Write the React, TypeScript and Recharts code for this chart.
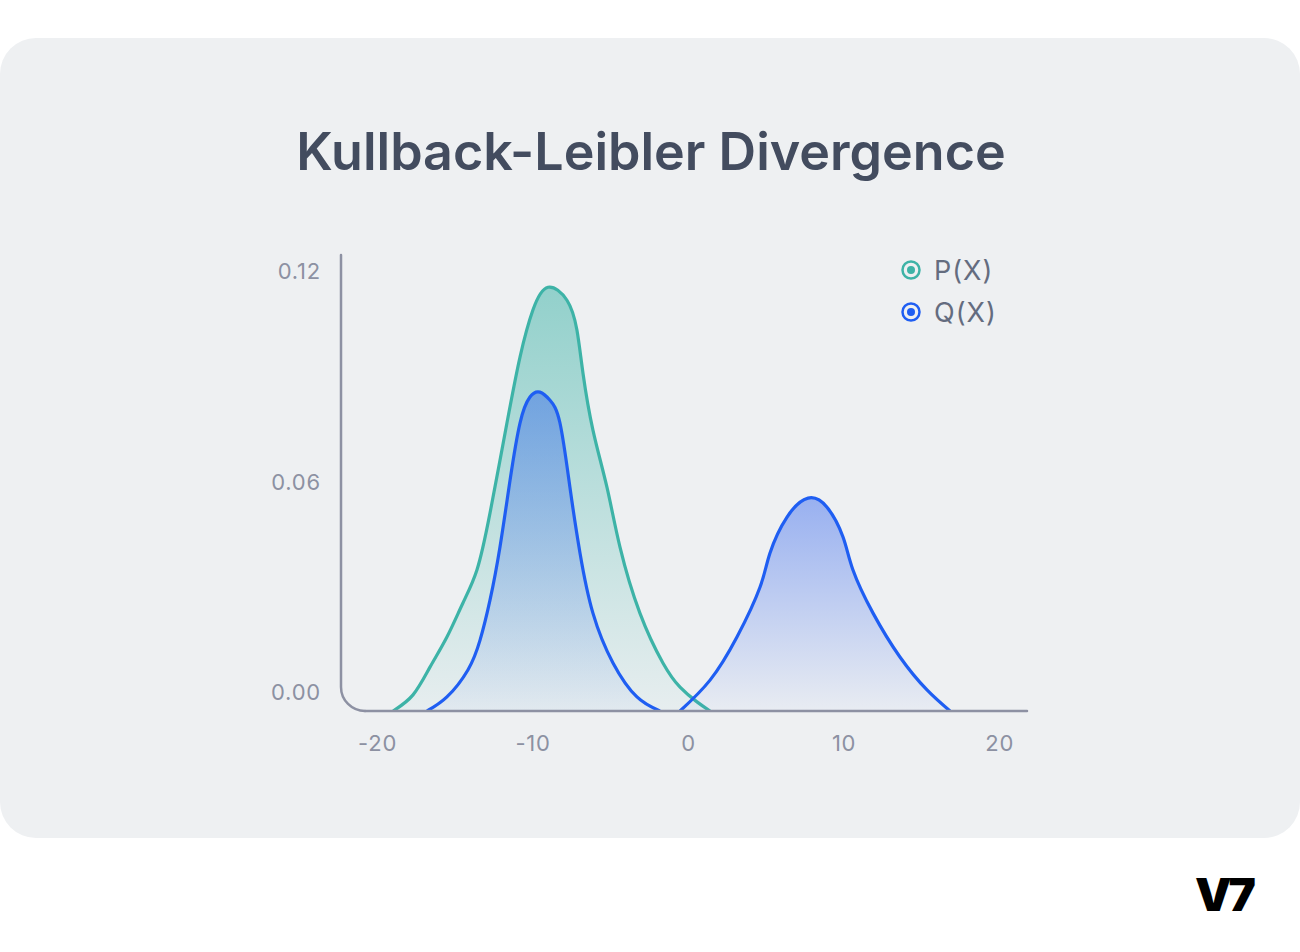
import React from "react";
import { AreaChart, Area, XAxis, YAxis, ReferenceLine } from "recharts";

// P(X) curve samples
const pX = [-19.0, -17.72, -16.63, -15.54, -14.51, -13.61, -12.77, -11.68, -10.84, -10.01, -9.04, -7.82, -7.18, -6.79, -6.15, -5.25, -4.41, -3.13, -1.65, -0.55, 0.54, 1.38];
const pY = [0, 0.0046, 0.0125, 0.0211, 0.0308, 0.0402, 0.0564, 0.0821, 0.1009, 0.1143, 0.1208, 0.1171, 0.1086, 0.0963, 0.0801, 0.0638, 0.0467, 0.0279, 0.0137, 0.0068, 0.0026, 0];

// Q(X) curve samples: left bump
const qLeftX = [-16.82, -15.54, -14.19, -13.41, -12.77, -12.13, -11.48, -10.84, -10.2, -9.56, -8.91, -8.27, -7.63, -6.98, -6.15, -4.86, -3.32, -1.84];
const qLeftY = [0, 0.004, 0.0117, 0.0202, 0.0316, 0.0467, 0.0658, 0.0821, 0.0895, 0.0909, 0.0886, 0.0821, 0.0638, 0.045, 0.0279, 0.0137, 0.004, 0];

// Q(X) curve samples: right bump
const qRightX = [-0.55, 1.38, 3.11, 4.59, 5.23, 6.33, 7.68, 8.9, 9.93, 10.57, 11.86, 13.59, 15.33, 16.81];
const qRightY = [0, 0.0088, 0.0211, 0.0353, 0.045, 0.0553, 0.0607, 0.0581, 0.0496, 0.0402, 0.0279, 0.0154, 0.006, 0];

const xTicks = [-20, -10, 0, 10, 20];
const yTicks = [0, 0.06, 0.12];
const X_MIN = -22.35;
const X_MAX = 21.76;
const Y_MAX = 0.13;

const legendItems = [
  { name: "P(X)", color: "#3db3a7" },
  { name: "Q(X)", color: "#1f5ef2" },
];

const pData = pX.map((x, i) => ({ x, p: pY[i] }));
const qLeftData = qLeftX.map((x, i) => ({ x, q: qLeftY[i] }));
const qRightData = qRightX.map((x, i) => ({ x, q: qRightY[i] }));

const TICK_COLOR = "#8c91a2";
const AXIS_COLOR = "#8d91a3";
const FONT = "Inter, 'Noto Sans', sans-serif";
const R = 24;
const CURVE = "natural";

const YTick = (props: any) => (
  <text
    x={props.x}
    y={props.y - 19}
    textAnchor="end"
    dominantBaseline="central"
    fill={TICK_COLOR}
    fontSize={22}
    letterSpacing={0.8}
    fontFamily={FONT}
  >
    {Number(props.payload.value).toFixed(2)}
  </text>
);

const XTick = (props: any) => (
  <text
    x={props.x}
    y={props.y}
    textAnchor="middle"
    dominantBaseline="central"
    fill={TICK_COLOR}
    fontSize={22}
    letterSpacing={0.8}
    fontFamily={FONT}
  >
    {props.payload.value}
  </text>
);

const VerticalAxisShape = (p: any) => {
  const top = Math.min(p.y1, p.y2);
  const bottom = Math.max(p.y1, p.y2);
  const x = p.x1;
  return (
    <path
      d={`M${x},${top} L${x},${bottom - R} A${R},${R} 0 0 0 ${x + R},${bottom}`}
      fill="none"
      stroke={AXIS_COLOR}
      strokeWidth={2.5}
      strokeLinecap="round"
    />
  );
};

const HorizontalAxisShape = (p: any) => {
  const left = Math.min(p.x1, p.x2);
  const right = Math.max(p.x1, p.x2);
  const y = p.y1;
  return (
    <path
      d={`M${left + R},${y} L${right},${y}`}
      fill="none"
      stroke={AXIS_COLOR}
      strokeWidth={2.5}
      strokeLinecap="round"
    />
  );
};

const LegendBlock = () => (
  <div style={{ position: "absolute", left: 900, top: 249, fontFamily: FONT }}>
    {legendItems.map((it) => (
      <div key={it.name} style={{ display: "flex", alignItems: "center", height: 42 }}>
        <svg width={22} height={22} style={{ marginRight: 12 }}>
          <circle cx={11} cy={11} r={8.5} fill="none" stroke={it.color} strokeWidth={2.5} />
          <circle cx={11} cy={11} r={4} fill={it.color} />
        </svg>
        <span style={{ fontSize: 27, color: "#646c7f", lineHeight: "27px", letterSpacing: 1 }}>{it.name}</span>
      </div>
    ))}
  </div>
);

export default function App() {
  return (
    <div style={{ position: "absolute", left: 0, top: 0, width: 1300, height: 952, background: "#ffffff", overflow: "hidden" }}>
      <div
        style={{
          position: "absolute",
          left: 0,
          top: 38,
          width: 1300,
          height: 800,
          borderRadius: 36,
          background: "#eef0f2",
        }}
      />
      <div
        style={{
          position: "absolute",
          left: 0,
          top: 126,
          width: 1302,
          textAlign: "center",
          fontFamily: FONT,
          fontWeight: 600,
          fontSize: 52,
          lineHeight: "52px",
          color: "#434c5f",
        }}
      >
        Kullback-Leibler Divergence
      </div>
      <div style={{ position: "absolute", left: 0, top: 0 }}>
        <AreaChart width={1300} height={952} margin={{ top: 255, right: 273, left: 261, bottom: 181 }}>
          <defs>
            <linearGradient id="gradP" x1="0" y1="0" x2="0" y2="1">
              <stop offset="0%" stopColor="#3db3a7" stopOpacity={0.52} />
              <stop offset="100%" stopColor="#3db3a7" stopOpacity={0.04} />
            </linearGradient>
            <linearGradient id="gradQ" x1="0" y1="0" x2="0" y2="1">
              <stop offset="0%" stopColor="#2f62ee" stopOpacity={0.45} />
              <stop offset="100%" stopColor="#2f62ee" stopOpacity={0.03} />
            </linearGradient>
          </defs>
          <XAxis
            type="number"
            dataKey="x"
            domain={[X_MIN, X_MAX]}
            allowDataOverflow
            ticks={xTicks}
            axisLine={false}
            tickLine={false}
            tickSize={0}
            tickMargin={32}
            height={60}
            tick={<XTick />}
          />
          <YAxis
            type="number"
            domain={[0, Y_MAX]}
            allowDataOverflow
            ticks={yTicks}
            axisLine={false}
            tickLine={false}
            tickSize={0}
            tickMargin={20}
            width={80}
            tick={<YTick />}
          />
          <Area
            data={pData}
            dataKey="p"
            type={CURVE}
            stroke="#3db3a7"
            strokeWidth={3.2}
            fill="url(#gradP)"
            fillOpacity={1}
            dot={false}
            activeDot={false}
            isAnimationActive={false}
          />
          <Area
            data={qLeftData}
            dataKey="q"
            type={CURVE}
            stroke="#1f5ef2"
            strokeWidth={3.2}
            fill="url(#gradQ)"
            fillOpacity={1}
            dot={false}
            activeDot={false}
            isAnimationActive={false}
          />
          <Area
            data={qRightData}
            dataKey="q"
            type={CURVE}
            stroke="#1f5ef2"
            strokeWidth={3.2}
            fill="url(#gradQ)"
            fillOpacity={1}
            dot={false}
            activeDot={false}
            isAnimationActive={false}
          />
          <ReferenceLine x={X_MIN} shape={VerticalAxisShape} />
          <ReferenceLine y={0} shape={HorizontalAxisShape} />
        </AreaChart>
      </div>
      <LegendBlock />
      <div
        style={{
          position: "absolute",
          left: 1195,
          top: 866,
          fontFamily: FONT,
          fontWeight: 900,
          fontSize: 46,
          lineHeight: "56px",
          letterSpacing: -3,
          color: "#000000",
        }}
      >
        V7
      </div>
    </div>
  );
}
